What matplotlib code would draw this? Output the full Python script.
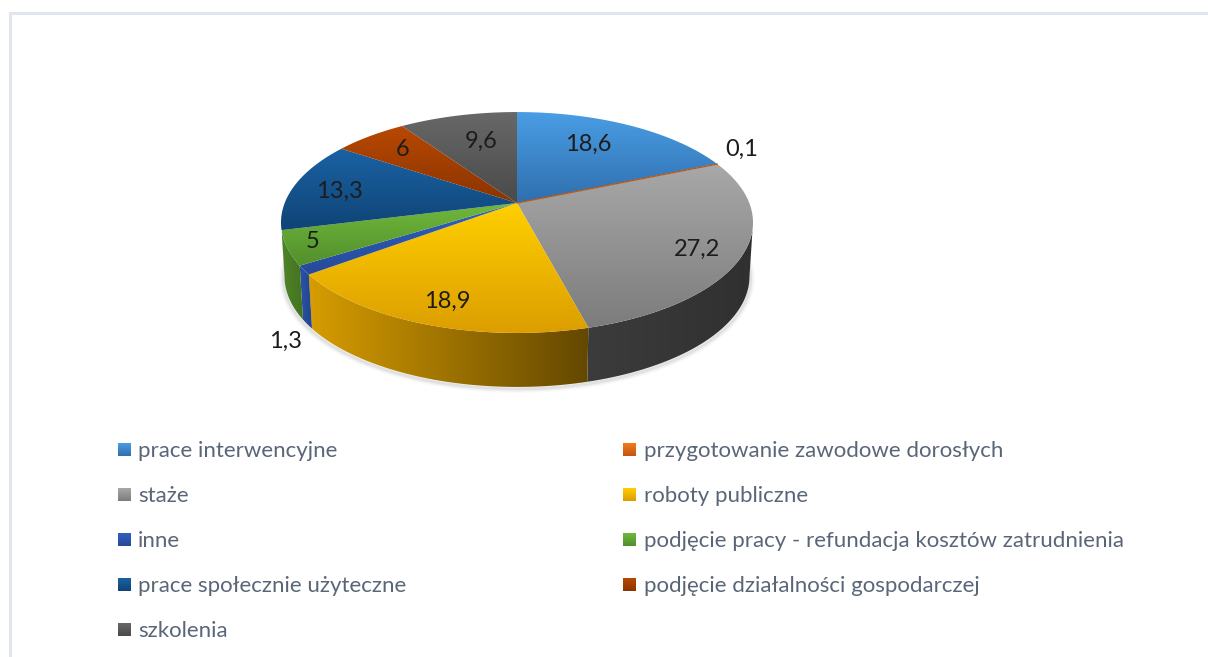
"""Kołowy wykres 3D: formy aktywizacji bezrobotnych (udział w %)."""
import matplotlib

matplotlib.use("Agg")
import matplotlib.pyplot as plt
import numpy as np
from matplotlib.colors import LinearSegmentedColormap
from matplotlib.patches import Polygon

plt.rcParams["font.family"] = ["Lato", "DejaVu Sans"]

categories = [
    "prace interwencyjne",
    "przygotowanie zawodowe dorosłych",
    "staże",
    "roboty publiczne",
    "inne",
    "podjęcie pracy - refundacja kosztów zatrudnienia",
    "prace społecznie użyteczne",
    "podjęcie działalności gospodarczej",
    "szkolenia",
]
values = [18.6, 0.1, 27.2, 18.9, 1.3, 5, 13.3, 6, 9.6]
value_labels = ["18,6", "0,1", "27,2", "18,9", "1,3", "5", "13,3", "6", "9,6"]

top_light = ["#4a9de4", "#f47a20", "#a8a8a8", "#ffcf00", "#2f60c0", "#70b83c", "#1a62a4", "#b84800", "#686868"]
top_dark = ["#2f6fae", "#c0560f", "#7c7c7c", "#dc9e00", "#264a98", "#528f2c", "#0f4476", "#8a3400", "#4a4a4a"]
side_left = ["#2a5f95", "#a84c10", "#3c3c3c", "#d69c00", "#2a52a8", "#4f8429", "#0d3c68", "#7a2e00", "#404040"]
side_right = ["#2a5f95", "#a84c10", "#303030", "#644800", "#234488", "#44721f", "#0d3c68", "#7a2e00", "#404040"]

# rozmieszczenie etykiet w pikselach obrazka
label_xy = [(588, 144), (742, 149), (697, 249), (447, 301), (286, 341), (313, 241), (339, 191), (403, 149), (481, 141)]

W, H = 1208, 657
APEX_X, APEX_Y = 517, 203
A, B, K = 232.3, 107.0, 0.1765
DEPTH = 54
TEXT_GREY = "#5a6678"

fig = plt.figure(figsize=(W / 100, H / 100), dpi=100)
ax = fig.add_axes([0, 0, 1, 1])
ax.set_xlim(0, W)
ax.set_ylim(H, 0)
ax.axis("off")


def project(theta, r=1.0, dy=0.0, sx=1.0):
    # kąt mierzony od góry, zgodnie ze wskazówkami zegara; lekka perspektywa
    px = r * np.sin(theta)
    py = r * np.cos(theta)
    w = 1 + K * py
    return APEX_X + sx * A * px / w, APEX_Y - B * py / w + dy


def gradient_fill(points, c0, c1, horizontal=False, zorder=2):
    pts = np.asarray(points)
    x0, x1 = pts[:, 0].min(), pts[:, 0].max()
    y0, y1 = pts[:, 1].min(), pts[:, 1].max()
    cmap = LinearSegmentedColormap.from_list("g", [c0, c1])
    grad = np.linspace(0, 1, 128)
    grad = grad[None, :] if horizontal else grad[:, None]
    im = ax.imshow(grad, cmap=cmap, extent=(x0, x1, y1, y0), aspect="auto", zorder=zorder, interpolation="bilinear")
    clip = Polygon(pts, closed=True, transform=ax.transData, fc="none", ec="none")
    ax.add_patch(clip)
    im.set_clip_path(clip)


# granice wycinków
edges = np.cumsum([0] + values) / sum(values) * 2 * np.pi

# miękki cień pod wykresem
tt = np.linspace(0, 2 * np.pi, 360)
sx_, sy_ = project(tt, dy=DEPTH + 2, sx=0.99)
for lw, alpha in [(6, 0.02), (4, 0.04), (2, 0.06)]:
    ax.plot(sx_, sy_, color="black", lw=lw, alpha=alpha, zorder=1)

# ścianka boczna: tylko część zwrócona do widza
front_a = np.arccos(-K)
front_b = 2 * np.pi - front_a
for i in range(len(values)):
    t0, t1 = max(edges[i], front_a), min(edges[i + 1], front_b)
    if t1 <= t0:
        continue
    t = np.linspace(t0, t1, 120)
    xt, yt = project(t)
    xb, yb = project(t[::-1], dy=DEPTH, sx=0.985)
    wall = np.column_stack([np.r_[xt, xb], np.r_[yt, yb]])
    gradient_fill(wall, side_left[i], side_right[i], horizontal=True, zorder=2)

# górna powierzchnia
for i in range(len(values)):
    t = np.linspace(edges[i], edges[i + 1], 120)
    xt, yt = project(t)
    face = np.column_stack([np.r_[APEX_X, xt], np.r_[APEX_Y, yt]])
    gradient_fill(face, top_light[i], top_dark[i], zorder=3)
    # wąskie wycinki muszą być widoczne także po rastrowaniu
    if values[i] < 1:
        ax.plot(face[[0, 60], 0], face[[0, 60], 1], color=top_dark[i], lw=0.9, zorder=4)

ax.set_xlim(0, W)
ax.set_ylim(H, 0)

for (lx, ly), txt in zip(label_xy, value_labels):
    ax.text(lx, ly, txt, fontsize=17, color="#1c1c1c", ha="center", va="center", zorder=5)

# legenda w dwóch kolumnach
rows_y = [450, 495, 540, 585, 630]
for i, name in enumerate(categories):
    col, row = i % 2, i // 2
    sq_x = 118 if col == 0 else 623
    tx_x = 138 if col == 0 else 644
    y = rows_y[row]
    box = [(sq_x, y - 7), (sq_x + 13, y - 7), (sq_x + 13, y + 6), (sq_x, y + 6)]
    gradient_fill(box, top_light[i], top_dark[i], zorder=3)
    ax.text(tx_x, y + 1, name, fontsize=16, color=TEXT_GREY, ha="left", va="center", zorder=5)

# ramka obszaru wykresu
ax.plot([9.5, 9.5, W], [H, 12.5, 12.5], color="#e0e4ec", lw=2.2, zorder=1, solid_joinstyle="miter")

fig.savefig("out.png", dpi=100)
plt.close(fig)
